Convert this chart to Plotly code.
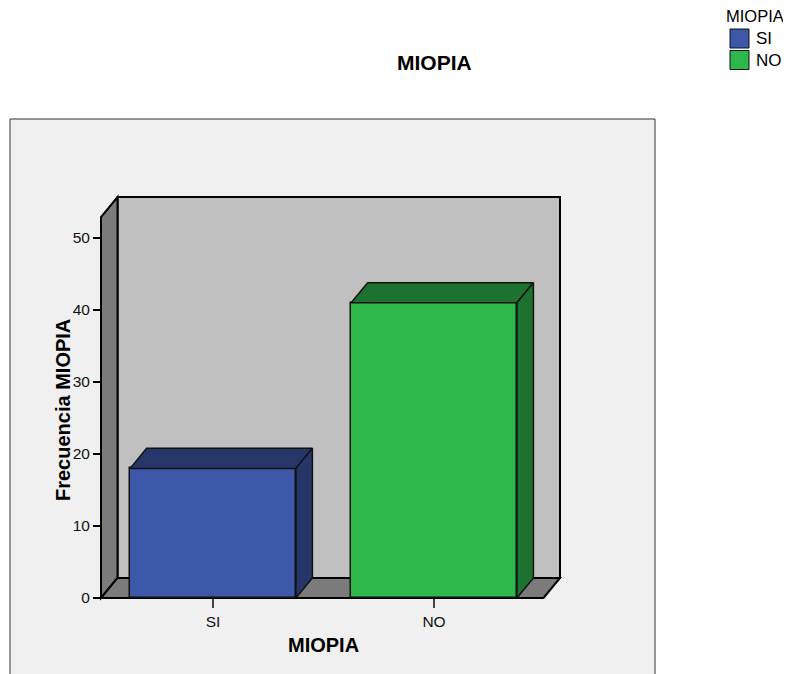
import plotly.graph_objects as go

# ---------------- data ----------------
categories = ["SI", "NO"]
counts = [18, 41]
front_colors = ["#3d57a9", "#2eb84b"]
dark_colors = ["#263669", "#1d7230"]
y_ticks = [0, 10, 20, 30, 40, 50]
chart_title = "MIOPIA"
x_title = "MIOPIA"
y_title = "Frecuencia MIOPIA"
legend_title = "MIOPIA"

# ---------------- geometry (style) ----------------
# the page adds an 8px body margin, so the figure is shrunk and shifted
OFF = 8
W, H = 791 - OFF, 674 - OFF
PL, PR, PT, PB = 101, 560, 197, 598     # plot area in reference pixels
ML, MT = PL - OFF, PT - OFF
MR, MB = W - (PR - OFF), H - (PB - OFF)
XMIN, XMAX = -0.5068, 1.570
YMIN, YMAX = 0.0, 55.69
DX, DY = 0.0747, 2.78          # 3D depth offset in data units
BAR_W = 0.75
FONT = "Arial, Liberation Sans, sans-serif"

pw = PR - PL
ph = PB - PT


def dpx(x):  # data x -> paper
    return (x - XMIN) / (XMAX - XMIN)


def dpy(y):  # data y -> paper
    return (y - YMIN) / (YMAX - YMIN)


def ppx(px):  # reference pixel x -> paper
    return (px - PL) / pw


def ppy(py):  # reference pixel y -> paper
    return (PB - py) / ph


def path(pts):
    return "M" + "L".join(f"{a:.5f},{b:.5f}" for a, b in pts) + "Z"


xs = list(range(len(categories)))

fig = go.Figure()

# front faces of the bars
fig.add_trace(go.Bar(
    x=xs, y=counts, width=BAR_W,
    marker=dict(color=front_colors, line=dict(color="#111111", width=1.5)),
    cliponaxis=False, showlegend=False, hoverinfo="skip",
))

# top and side faces
for x, v, dc in zip(xs, counts, dark_colors):
    l, r = x - BAR_W / 2, x + BAR_W / 2
    top = [(l, v), (l + DX, v + DY), (r + DX, v + DY), (r, v), (l, v)]
    side = [(r, 0), (r + DX, DY), (r + DX, v + DY), (r, v), (r, 0)]
    for poly in (top, side):
        fig.add_trace(go.Scatter(
            x=[p[0] for p in poly], y=[p[1] for p in poly],
            mode="lines", fill="toself", fillcolor=dc,
            line=dict(color="#111111", width=1.5),
            showlegend=False, hoverinfo="skip",
        ))

shapes = []
# outer frame
shapes.append(dict(type="rect", xref="paper", yref="paper",
                   x0=ppx(10), x1=ppx(655), y0=ppy(119), y1=ppy(700),
                   fillcolor="#f0f0f0", line=dict(color="#333333", width=1),
                   layer="below"))
# back wall
shapes.append(dict(type="path", xref="paper", yref="paper",
                   path=path([(dpx(XMIN + DX), dpy(DY)), (dpx(XMIN + DX), dpy(YMAX)),
                              (dpx(XMAX), dpy(YMAX)), (dpx(XMAX), dpy(DY))]),
                   fillcolor="#c0c0c0", line=dict(color="#000000", width=2),
                   layer="below"))
# left wall
shapes.append(dict(type="path", xref="paper", yref="paper",
                   path=path([(dpx(XMIN), dpy(0)), (dpx(XMIN), dpy(YMAX - DY)),
                              (dpx(XMIN + DX), dpy(YMAX)), (dpx(XMIN + DX), dpy(DY))]),
                   fillcolor="#7b7b7b", line=dict(color="#000000", width=2),
                   layer="below"))
# floor
shapes.append(dict(type="path", xref="paper", yref="paper",
                   path=path([(dpx(XMIN), dpy(0)), (dpx(XMIN + DX), dpy(DY)),
                              (dpx(XMAX), dpy(DY)), (dpx(XMAX - DX), dpy(0))]),
                   fillcolor="#7b7b7b", line=dict(color="#000000", width=2),
                   layer="below"))

annotations = [
    dict(text=f"<b>{chart_title}</b>", xref="paper", yref="paper",
         x=ppx(434), y=ppy(63), showarrow=False, xanchor="center", yanchor="middle",
         font=dict(family=FONT, size=21, color="#000000")),
    dict(text=f"<b>{x_title}</b>", xref="paper", yref="paper",
         x=ppx(323), y=ppy(645), showarrow=False, xanchor="center", yanchor="middle",
         font=dict(family=FONT, size=20, color="#000000")),
    dict(text=f"<b>{y_title}</b>", xref="paper", yref="paper",
         x=ppx(63), y=ppy(410), showarrow=False, xanchor="center", yanchor="middle",
         textangle=-90, font=dict(family=FONT, size=20, color="#000000")),
    dict(text=legend_title, xref="paper", yref="paper",
         x=ppx(755), y=ppy(16), showarrow=False, xanchor="center", yanchor="middle",
         font=dict(family=FONT, size=16.5, color="#000000")),
]

# manual legend
leg_y = [38.5, 60]
for cat, col, cy in zip(categories, front_colors, leg_y):
    shapes.append(dict(type="rect", xref="paper", yref="paper",
                       x0=ppx(730), x1=ppx(749), y0=ppy(cy - 9.5), y1=ppy(cy + 9.5),
                       fillcolor=col, line=dict(color="#111111", width=1)))
    annotations.append(dict(text=cat, xref="paper", yref="paper",
                            x=ppx(754), y=ppy(cy), showarrow=False,
                            xanchor="left", yanchor="middle",
                            font=dict(family=FONT, size=17, color="#000000")))

fig.update_layout(
    width=W, height=H,
    margin=dict(l=ML, r=MR, t=MT, b=MB, pad=0),
    paper_bgcolor="#ffffff",
    plot_bgcolor="rgba(0,0,0,0)",
    showlegend=False,
    shapes=shapes,
    annotations=annotations,
    bargap=0,
)
fig.update_xaxes(
    range=[XMIN, XMAX], tickmode="array", tickvals=xs, ticktext=categories,
    ticks="outside", ticklen=9, tickwidth=1.5, tickcolor="#444444",
    showgrid=False, zeroline=False, showline=False,
    tickfont=dict(family=FONT, size=15.5, color="#111111"), fixedrange=True,
)
fig.update_yaxes(
    range=[YMIN, YMAX], tickmode="array", tickvals=y_ticks,
    ticks="outside", ticklen=7, tickwidth=2, tickcolor="#000000",
    showgrid=False, zeroline=False, showline=False,
    tickfont=dict(family=FONT, size=15.5, color="#111111"), fixedrange=True,
)

fig.write_html("out.html")
